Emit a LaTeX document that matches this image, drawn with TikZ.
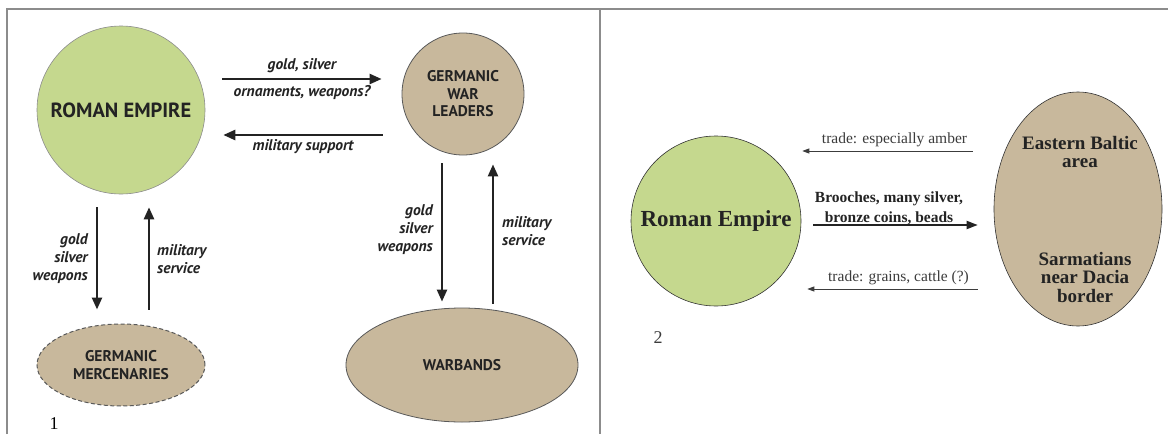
\documentclass[tikz,border=0pt]{standalone}
\usepackage{fontspec}
\setmainfont{Liberation Serif}
\newfontfamily\dinfont{PT Sans}
\usetikzlibrary{arrows.meta,shapes.geometric}
\definecolor{rgreen}{RGB}{197,216,142}
\definecolor{rtan}{RGB}{200,184,156}
\definecolor{framegray}{RGB}{140,140,140}
\definecolor{inkone}{RGB}{35,35,35}
\definecolor{labgray}{RGB}{60,60,60}
\begin{document}
\begin{tikzpicture}[x=1pt,y=-1pt,
  capsone/.style={font=\dinfont\bfseries\fontsize{15.5}{17.5}\selectfont, text=inkone, align=center},
  labone/.style={font=\dinfont\bfseries\itshape\fontsize{15.5}{18}\selectfont, text=inkone, inner sep=0pt},
  bigarr/.style={line width=2.4pt, inkone, -{Triangle[length=12pt,width=10pt]}},
  thinarr/.style={line width=0.9pt, labgray, -{Triangle[length=7pt,width=5pt]}},
  midarr/.style={line width=1.8pt, inkone, -{Triangle[length=11pt,width=8pt]}},
  labtwo/.style={font=\fontsize{15.5}{18}\selectfont, text=labgray, inner sep=0pt},
  boldtwo/.style={font=\bfseries\fontsize{19}{18.5}\selectfont, text=inkone, align=center, inner sep=0pt},
  numlab/.style={font=\fontsize{18}{20}\selectfont, inner sep=0pt}]
\useasboundingbox (0,0) rectangle (1168,434);
\fill[white] (0,0) rectangle (1168,434);
% frame
\draw[framegray, line width=1.4pt] (7,434) -- (7,9) -- (1168,9);
\draw[framegray, line width=1.6pt] (600,9) -- (600,434);

% ---------- panel 1 ----------
\node[circle, draw=black!45, line width=0.6pt, fill=rgreen, minimum size=168pt, inner sep=0pt,
      font=\dinfont\bfseries\fontsize{20.5}{22}\selectfont, text=inkone] (re) at (121,110) {ROMAN EMPIRE};
\node[circle, draw=black!65, line width=0.8pt, fill=rtan, minimum size=122pt, inner sep=0pt, capsone]
      (wl) at (463,94) {GERMANIC\\WAR\\LEADERS};
\node[ellipse, draw=black!65, line width=1pt, dash pattern=on 4pt off 2.5pt, fill=rtan,
      minimum width=168pt, minimum height=82pt, inner sep=0pt, capsone]
      (gm) at (121,365) {GERMANIC\\MERCENARIES};
\node[ellipse, draw=black!65, line width=0.8pt, fill=rtan, minimum width=232pt, minimum height=114pt,
      inner sep=0pt, capsone] (wb) at (462,365) {WARBANDS};

\coordinate (ha) at (0,79);
\coordinate (hb) at (0,135);
\draw[bigarr, shorten <=17pt, shorten >=20pt] (re.east |- ha) -- (wl.west |- ha);
\draw[bigarr, shorten <=19pt, shorten >=18pt] (wl.west |- hb) -- (re.east |- hb);
\node[labone] (l1) at (302,66) {gold, silver};
\node[labone] (l2) at (302,93) {ornaments, weapons?};
\node[labone] (l3) at (303,147) {military support};

\coordinate (va) at (97,0);
\coordinate (vb) at (149,0);
\draw[bigarr, shorten <=13pt, shorten >=14pt] (re.south -| va) -- (gm.north -| va);
\draw[bigarr, shorten <=14pt, shorten >=13pt] (gm.north -| vb) -- (re.south -| vb);
\node[labone, align=right, anchor=east] (l4) at (88,259) {gold\\silver\\weapons};
\node[labone, align=left, anchor=west] (l5) at (157,259) {military\\service};

\coordinate (vc) at (442,0);
\coordinate (vd) at (493,0);
\draw[bigarr, shorten <=8pt, shorten >=6pt] (wl.south -| vc) -- (wb.north -| vc);
\draw[bigarr, shorten <=4pt, shorten >=9pt] (wb.north -| vd) -- (wl.south -| vd);
\node[labone, align=right, anchor=east] (l6) at (433,230) {gold\\silver\\weapons};
\node[labone, align=left, anchor=west] (l7) at (502,231) {military\\service};

\node[numlab] (n1) at (54,424) {1};

% ---------- panel 2 ----------
\node[circle, draw=black!80, line width=0.6pt, fill=rgreen, minimum size=170pt, inner sep=0pt,
      font=\bfseries\fontsize{23}{25}\selectfont, text=inkone] (re2) at (716,221) {Roman Empire};
\node[ellipse, draw=black!80, line width=0.6pt, fill=rtan, minimum width=168pt, minimum height=234pt,
      inner sep=0pt] (eb) at (1078,209) {};
\node[boldtwo] (ebt) at (1080,152) {Eastern Baltic\\area};
\node[boldtwo] (smt) at (1085,277) {Sarmatians\\near Dacia\\border};

\coordinate (pa) at (0,151);
\coordinate (pb) at (0,225);
\coordinate (pc) at (0,289);
\draw[thinarr, shorten <=21pt, shorten >=1pt] (eb.west |- pa) -- (re2.east |- pa);
\draw[midarr, shorten <=12pt, shorten >=16pt] (re2.east |- pb) -- (eb.west |- pb);
\draw[thinarr, shorten <=16pt, shorten >=6pt] (eb.west |- pc) -- (re2.east |- pc);
\node[labtwo] (t1) at (894.5,140) {trade: especially amber};
\node[boldtwo, font=\bfseries\fontsize{15.5}{20}\selectfont] (t2) at (889,208) {Brooches, many silver,\\bronze coins, beads};
\node[labtwo] (t3) at (898.5,278) {trade: grains, cattle (?)};

\node[numlab, text=labgray] (n2) at (658,338) {2};
\end{tikzpicture}
\end{document}
